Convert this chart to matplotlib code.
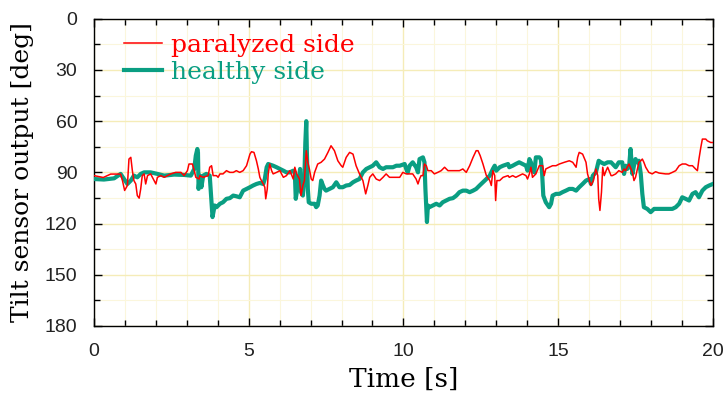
import matplotlib
matplotlib.use("Agg")
import matplotlib.pyplot as plt
from matplotlib.ticker import MultipleLocator

t_red = [0.00, 0.30, 0.54, 0.86, 0.92, 0.99, 1.08, 1.13, 1.19, 1.24, 1.29, 1.35, 1.40, 1.46, 1.51, 1.56,
         1.62, 1.67, 1.73, 1.83, 1.94, 2.00, 2.05, 2.16, 2.27, 2.48, 2.64, 2.81, 2.91, 3.02, 3.07, 3.18,
         3.24, 3.29, 3.40, 3.42, 3.53, 3.69, 3.74, 3.80, 3.85, 3.96, 4.01, 4.07, 4.17, 4.28, 4.39, 4.50,
         4.60, 4.71, 4.82, 4.93, 5.04, 5.09, 5.17, 5.25, 5.31, 5.36, 5.41, 5.47, 5.52, 5.55, 5.60, 5.63,
         5.68, 5.74, 5.79, 5.90, 6.01, 6.06, 6.12, 6.22, 6.33, 6.44, 6.49, 6.55, 6.64, 6.69, 6.75, 6.80,
         6.86, 6.91, 6.96, 7.02, 7.07, 7.13, 7.23, 7.34, 7.45, 7.56, 7.66, 7.77, 7.88, 7.99, 8.04, 8.15,
         8.26, 8.37, 8.47, 8.58, 8.69, 8.78, 8.85, 8.91, 9.01, 9.12, 9.23, 9.34, 9.44, 9.55, 9.77, 9.88,
         9.98, 10.09, 10.30, 10.41, 10.47, 10.52, 10.57, 10.63, 10.68, 10.74, 10.79, 10.90, 11.00, 11.11,
         11.22, 11.33, 11.44, 11.60, 11.81, 11.92, 12.03, 12.14, 12.25, 12.35, 12.41, 12.48, 12.57, 12.68,
         12.79, 12.84, 12.89, 12.95, 12.98, 13.02, 13.11, 13.22, 13.38, 13.42, 13.53, 13.63, 13.74, 13.85,
         13.96, 14.01, 14.07, 14.12, 14.17, 14.28, 14.39, 14.50, 14.55, 14.60, 14.71, 14.82, 14.93, 15.04,
         15.20, 15.36, 15.47, 15.58, 15.63, 15.68, 15.79, 15.90, 15.95, 16.01, 16.06, 16.14, 16.22, 16.28,
         16.31, 16.35, 16.40, 16.44, 16.49, 16.55, 16.60, 16.71, 16.75, 16.86, 16.96, 17.07, 17.13, 17.18,
         17.23, 17.29, 17.40, 17.45, 17.50, 17.61, 17.67, 17.72, 17.77, 17.83, 17.93, 18.04, 18.15, 18.26,
         18.47, 18.58, 18.69, 18.80, 18.91, 19.01, 19.12, 19.23, 19.34, 19.44, 19.50, 19.55, 19.61, 19.66,
         19.77, 19.82, 19.93, 20.00]
paralyzed = [91.9, 93.0, 91.0, 91.0, 94.8, 100.6, 97.7, 82.2, 81.2, 89.0, 94.8, 96.8, 103.6, 105.1, 99.7, 91.9,
             90.9, 96.8, 91.9, 90.9, 94.8, 96.8, 92.9, 91.9, 92.9, 90.9, 90.0, 90.0, 91.9, 89.0, 85.1, 85.1,
             89.0, 92.9, 93.9, 91.9, 92.9, 91.9, 87.0, 86.1, 91.9, 91.9, 92.9, 90.9, 90.9, 89.0, 90.0, 90.0,
             89.0, 90.0, 89.0, 86.1, 79.3, 77.9, 78.3, 83.2, 88.0, 92.9, 94.8, 96.8, 98.7, 105.5, 99.7, 90.9,
             85.1, 89.0, 90.9, 90.0, 89.0, 90.9, 92.9, 91.9, 89.0, 93.9, 87.0, 90.9, 93.9, 103.6, 97.7, 94.8,
             77.3, 84.1, 88.0, 93.9, 94.8, 90.0, 85.1, 84.1, 82.2, 78.3, 74.4, 77.3, 83.2, 86.1, 87.0, 81.2,
             78.3, 79.3, 86.1, 90.9, 94.8, 102.6, 97.7, 92.9, 90.9, 93.9, 94.8, 92.9, 90.9, 92.9, 92.9, 92.9,
             90.0, 90.9, 90.9, 93.9, 96.8, 93.9, 91.9, 91.9, 85.1, 86.1, 89.0, 89.0, 90.9, 90.0,
             89.0, 87.0, 89.0, 89.0, 89.0, 88.0, 90.0, 86.1, 81.2, 77.3, 77.3, 80.2, 85.1, 91.9,
             94.8, 97.7, 89.0, 91.9, 106.5, 94.8, 94.8, 92.9, 91.9, 92.9, 91.9, 92.9, 91.9, 90.9,
             91.9, 93.9, 90.9, 87.0, 92.9, 90.9, 86.1, 86.1, 91.9, 88.0, 87.0, 86.1, 86.1, 85.1,
             84.1, 83.2, 84.1, 87.0, 81.2, 78.3, 79.3, 84.1, 90.9, 94.8, 97.7, 94.8, 88.0, 91.9,
             105.5, 112.3, 101.6, 87.0, 91.9, 89.0, 87.0, 91.9, 91.9, 90.9, 89.0, 90.0, 88.0, 89.0,
             87.0, 85.1, 90.0, 94.8, 92.9, 84.1, 83.2, 82.2, 84.1, 87.0, 90.0, 90.9, 89.6, 90.4,
             90.9, 90.9, 90.0, 89.0, 86.1, 85.1, 85.1, 86.1, 86.1, 88.0, 89.0, 82.2, 75.4, 70.5,
             70.5, 71.5, 72.5, 72.5]

t_green = [0.00, 0.32, 0.65, 0.86, 0.97, 1.08, 1.19, 1.29, 1.40, 1.51, 1.62, 1.83, 2.05, 2.27, 2.59, 2.91,
           3.13, 3.24, 3.29, 3.34, 3.36, 3.38, 3.42, 3.47, 3.53, 3.63, 3.74, 3.80, 3.83, 3.90, 3.96, 4.07,
           4.17, 4.28, 4.39, 4.50, 4.60, 4.71, 4.82, 4.93, 5.04, 5.14, 5.25, 5.36, 5.47, 5.52, 5.58, 5.63,
           5.79, 5.90, 6.01, 6.12, 6.22, 6.33, 6.44, 6.49, 6.52, 6.57, 6.62, 6.66, 6.69, 6.75, 6.80, 6.83,
           6.86, 6.88, 6.91, 6.94, 7.02, 7.13, 7.18, 7.23, 7.29, 7.34, 7.40, 7.45, 7.50, 7.61, 7.72, 7.83,
           7.93, 8.04, 8.15, 8.26, 8.37, 8.47, 8.58, 8.69, 8.80, 8.91, 9.01, 9.12, 9.23, 9.34, 9.44, 9.66,
           9.77, 9.88, 10.04, 10.09, 10.14, 10.20, 10.30, 10.41, 10.47, 10.52, 10.63, 10.68, 10.71, 10.76,
           10.79, 10.84, 10.95, 11.06, 11.17, 11.27, 11.38, 11.49, 11.60, 11.71, 11.81, 11.92, 12.03, 12.14,
           12.25, 12.35, 12.46, 12.57, 12.68, 12.79, 12.89, 12.95, 13.00, 13.11, 13.22, 13.38, 13.42, 13.53,
           13.63, 13.74, 13.85, 13.96, 14.01, 14.07, 14.12, 14.17, 14.23, 14.28, 14.39, 14.44, 14.48, 14.52,
           14.60, 14.71, 14.77, 14.82, 14.93, 15.04, 15.14, 15.25, 15.36, 15.47, 15.58, 15.68, 15.79, 15.90,
           16.01, 16.06, 16.12, 16.22, 16.31, 16.38, 16.49, 16.60, 16.71, 16.86, 16.96, 17.07, 17.13, 17.18,
           17.23, 17.29, 17.34, 17.40, 17.45, 17.50, 17.56, 17.61, 17.67, 17.72, 17.77, 17.88, 17.99, 18.10,
           18.26, 18.47, 18.69, 18.80, 18.91, 19.01, 19.12, 19.23, 19.34, 19.44, 19.55, 19.66, 19.77, 19.88,
           20.00]
healthy = [93.9, 94.2, 93.5, 90.9, 93.9, 96.8, 94.8, 91.9, 92.9, 90.9, 90.0, 90.0, 90.9, 91.9, 91.3, 91.5,
           91.9, 88.0, 80.2, 76.3, 78.3, 99.7, 91.9, 98.7, 91.9, 90.9, 91.9, 107.5, 116.2, 109.4, 110.4, 108.4,
           107.5, 105.5, 105.1, 103.6, 104.0, 104.6, 100.7, 99.7, 98.7, 97.7, 96.8, 96.2, 96.8, 93.9, 87.0, 85.1,
           86.1, 87.0, 88.0, 89.0, 90.0, 90.0, 89.0, 90.0, 105.5, 99.7, 93.9, 88.0, 101.6, 103.6, 91.9, 72.5,
           60.0, 78.3, 99.7, 107.5, 108.4, 108.4, 110.4, 109.4, 103.6, 94.8, 97.7, 99.7, 100.7, 99.7, 98.7, 95.8,
           98.7, 98.7, 97.7, 97.4, 95.8, 94.8, 93.9, 90.0, 88.0, 87.0, 86.1, 84.1, 87.0, 88.0, 87.0, 87.0,
           86.1, 86.1, 85.1, 88.0, 90.0, 86.1, 84.1, 87.0, 90.0, 82.2, 81.2, 84.1, 99.7, 119.1,
           109.4, 110.4, 109.4, 108.4, 109.4, 107.5, 106.5, 105.5, 105.1, 103.6, 101.6, 100.7, 100.7, 101.6,
           100.7, 99.7, 97.7, 95.8, 93.9, 91.9, 88.0, 86.1, 89.0, 87.0, 86.1, 85.1, 87.0, 86.1,
           85.1, 84.1, 85.1, 86.1, 89.0, 82.2, 84.1, 89.0, 90.0, 81.2, 81.2, 82.2, 90.0, 103.6,
           107.5, 110.4, 108.4, 103.6, 102.6, 102.6, 101.6, 100.7, 99.7, 99.7, 100.7, 98.7, 96.8, 94.8,
           93.9, 96.8, 91.9, 90.0, 83.2, 84.1, 85.1, 84.1, 84.1, 87.0, 84.1, 84.1, 90.9, 86.1,
           88.0, 87.0, 76.3, 90.9, 86.1, 82.2, 84.1, 83.2, 90.9, 102.6, 110.4, 111.4, 113.3, 111.4,
           111.4, 111.4, 111.4, 110.4, 108.4, 104.6, 105.5, 106.5, 102.6, 101.6, 104.6, 100.7, 98.7, 97.7,
           96.8]

x_ticks = [0, 5, 10, 15, 20]
y_ticks = [0, 30, 60, 90, 120, 150, 180]

fig = plt.figure(figsize=(7.23, 3.99), dpi=100)
ax = fig.add_axes([0.130, 0.183, 0.856, 0.770])

ax.plot(t_red, paralyzed, color="#ff0000", lw=1.1, label="paralyzed side", zorder=4)
ax.plot(t_green, healthy, color="#0a9e82", lw=3.0, label="healthy side", zorder=3)

ax.set_xlim(0, 20)
ax.set_ylim(180, 0)
ax.set_xticks(x_ticks)
ax.set_yticks(y_ticks)
ax.xaxis.set_minor_locator(MultipleLocator(1))
ax.yaxis.set_minor_locator(MultipleLocator(15))
ax.grid(which="major", color="#f5ecb8", lw=1.0, zorder=0)
ax.grid(which="minor", color="#fbf6dc", lw=0.8, zorder=0)
ax.set_axisbelow(True)
ax.tick_params(which="both", direction="in", top=True, right=True, width=1.0)
ax.tick_params(which="major", length=6)
ax.tick_params(which="minor", length=4)
ax.tick_params(axis="y", pad=12)
ax.tick_params(axis="x", pad=12)
for lab in ax.get_xticklabels() + ax.get_yticklabels():
    lab.set_fontfamily("Liberation Sans")
    lab.set_fontsize(14)
    lab.set_color("#222222")
for s in ax.spines.values():
    s.set_linewidth(1.0)

ax.set_xlabel("Time [s]", family="DejaVu Serif", fontsize=19, labelpad=5)
ax.set_ylabel("Tilt sensor output [deg]", family="DejaVu Serif", fontsize=18, labelpad=8)

leg = ax.legend(loc="upper left", bbox_to_anchor=(0.025, 1.0), frameon=False,
                prop={"family": "DejaVu Serif", "size": 18}, labelcolor="linecolor",
                handlelength=1.5, handletextpad=0.35, labelspacing=0.15, borderaxespad=0.2)

fig.savefig("out.png", dpi=100)
